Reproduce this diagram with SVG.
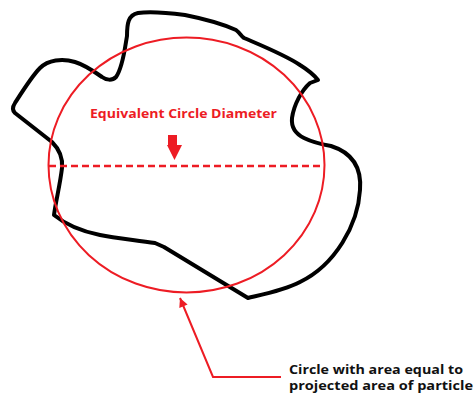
<svg xmlns="http://www.w3.org/2000/svg" width="475" height="394" viewBox="0 0 475 394">
<defs>
<style>
.red{stroke:#ed1c24;fill:none}
.lbl{font-family:"Open Sans","Liberation Sans",sans-serif;font-weight:bold}
</style>
<marker id="ah" viewBox="0 0 10 10" refX="10" refY="5" markerWidth="26" markerHeight="9" markerUnits="userSpaceOnUse" orient="auto">
<path d="M0,0 L10,5 L0,10 Z" fill="#ed1c24"/>
</marker>
</defs>
<rect width="475" height="394" fill="#fff"/>
<g id="particle">
<path d="M127,36 C127,24 128,15 138,13 C150,11 170,13 185,15 C205,19 225,25 236,30 C240,33 241,36 244,38 C265,47 285,55 300,65 C308,70 314,75 318,80 L310,83 C302,90 294,104 292,118 C291,128 296,134 304,138 C312,142 320,144 331,146 C350,152 362,165 360,190 C358,225 335,265 300,282 C285,290 265,294 248,298 L164,247 L155,243 C135,240 115,238 100,235 C80,231 65,224 54,215 C56,200 60,185 62,168 C63,158 60,150 52,142 L15,113 C12,110 13,106 15,103 C22,92 32,76 40,68 C48,60 62,58 75,62 C85,65 95,72 102,77 C106,80 112,81 116,77 C121,70 124,55 126,42 Z" fill="none" stroke="#000" stroke-width="4" stroke-linejoin="round"/>
</g>
<g id="circle">
<ellipse class="red" cx="186.5" cy="165" rx="138" ry="127.5" stroke-width="2"/>
</g>
<g id="diameter">
<line class="red" x1="49" y1="166" x2="325" y2="166" stroke-width="2.5" stroke-dasharray="7,4"/>
<path d="M168,135 L177,135 L177,145 L182,145 L174.5,160 L167,145 L168,145 Z" fill="#ed1c24"/>
<text class="lbl" x="90" y="118" font-size="13" fill="#ed1c24" textLength="187" lengthAdjust="spacingAndGlyphs">Equivalent Circle Diameter</text>
</g>
<g id="connectors">
<polyline class="red" points="281,377 213,377 180,298" stroke-width="2" marker-end="url(#ah)"/>
</g>
<g id="caption">
<text class="lbl" x="289" y="373.5" font-size="12" fill="#111" textLength="174" lengthAdjust="spacingAndGlyphs">Circle with area equal to</text>
<text class="lbl" x="289" y="389.5" font-size="12" fill="#111" textLength="184" lengthAdjust="spacingAndGlyphs">projected area of particle</text>
</g>
</svg>
